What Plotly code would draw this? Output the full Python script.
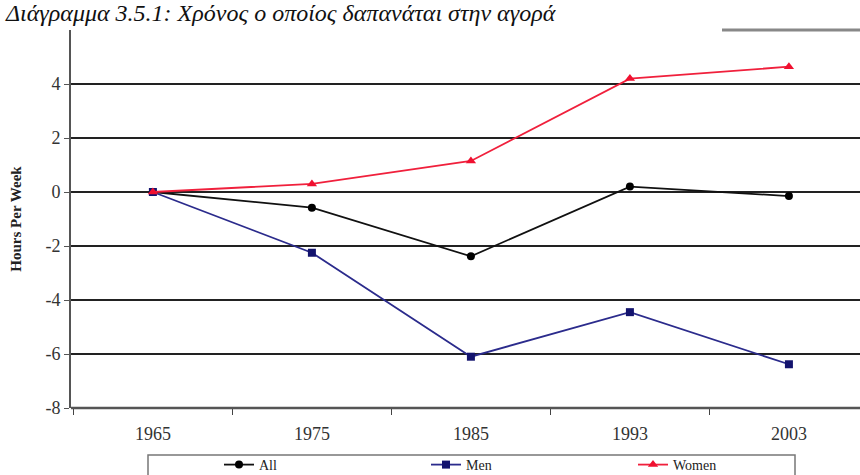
import plotly.graph_objects as go

years = ["1965", "1975", "1985", "1993", "2003"]
all_vals = [0, -0.58, -2.38, 0.2, -0.15]
men_vals = [0, -2.25, -6.1, -4.45, -6.38]
women_vals = [0, 0.3, 1.15, 4.2, 4.64]
y_ticks = [-8, -6, -4, -2, 0, 2, 4]
y_tick_labels = ["-8", "-6", "-4", "-2", "0", "2", "4"]

title_text = "Διάγραμμα 3.5.1: Χρόνος ο οποίος δαπανάται στην αγορά"

PH = 378.0
PW = 789.0

fig = go.Figure()
fig.add_trace(go.Scatter(x=years, y=all_vals, name="All", mode="lines+markers",
                         line=dict(color="#111111", width=1.8),
                         marker=dict(symbol="circle", size=8, color="#000000")))
fig.add_trace(go.Scatter(x=years, y=men_vals, name="Men", mode="lines+markers",
                         line=dict(color="#2b2b8c", width=1.8),
                         marker=dict(symbol="square", size=8, color="#13136e")))
fig.add_trace(go.Scatter(x=years, y=women_vals, name="Women", mode="lines+markers",
                         line=dict(color="#f0203c", width=1.8),
                         marker=dict(symbol="triangle-up", size=9, color="#f01030")))

fig.update_layout(
    width=860, height=475,
    margin=dict(l=71, r=0, t=30, b=67, autoexpand=False),
    paper_bgcolor="white", plot_bgcolor="white",
    font=dict(family="Liberation Serif", color="#333333"),
    showlegend=True,
    legend=dict(orientation="h", x=(219 - 71) / PW, xanchor="left",
                y=-57 / PH, yanchor="middle",
                font=dict(family="Liberation Serif", size=14, color="#222222"),
                entrywidth=162, entrywidthmode="pixels",
                bgcolor="rgba(0,0,0,0)", borderwidth=0),
    xaxis=dict(type="category", range=[-0.515, 4.447], showgrid=False,
               showline=False, ticks="outside", tickson="boundaries",
               ticklen=6, tickcolor="#444444", ticklabelstandoff=13,
               tickfont=dict(family="Liberation Serif", size=18, color="#333333")),
    yaxis=dict(range=[-8, 6], tickvals=y_ticks, ticktext=y_tick_labels, showgrid=True,
               gridcolor="#222222", gridwidth=1.5, zeroline=False,
               showline=True, linecolor="#555555", linewidth=2,
               ticks="outside", ticklen=5, tickcolor="#555555",
               tickfont=dict(family="Liberation Serif", size=18, color="#333333"),
               title=dict(text="<b>Hours Per Week</b>", standoff=20,
                          font=dict(family="Liberation Serif", size=15, color="#222222"))),
)

# bottom axis line (at -8) and top-right frame segment
fig.add_shape(type="line", xref="paper", yref="paper", x0=0, x1=1, y0=0, y1=0,
              line=dict(color="#555555", width=2.5))
fig.add_shape(type="line", xref="paper", yref="paper", x0=(722 - 71) / PW, x1=1, y0=1, y1=1,
              line=dict(color="#888888", width=3))
# legend box
fig.add_shape(type="rect", xref="paper", yref="paper",
              x0=(148 - 71) / PW, x1=(795 - 71) / PW, y0=-72 / PH, y1=-47 / PH,
              line=dict(color="#777777", width=1.5), fillcolor="rgba(0,0,0,0)")

fig.add_annotation(text="<i>" + title_text + "</i>", xref="paper", yref="paper",
                   x=-68 / PW, xanchor="left",
                   y=1 + 32 / PH, yanchor="top", showarrow=False,
                   font=dict(family="Liberation Serif", size=24, color="#111111"))

fig.write_html("out.html", config={"displayModeBar": False},
               post_script="document.body.style.margin='0px';")
